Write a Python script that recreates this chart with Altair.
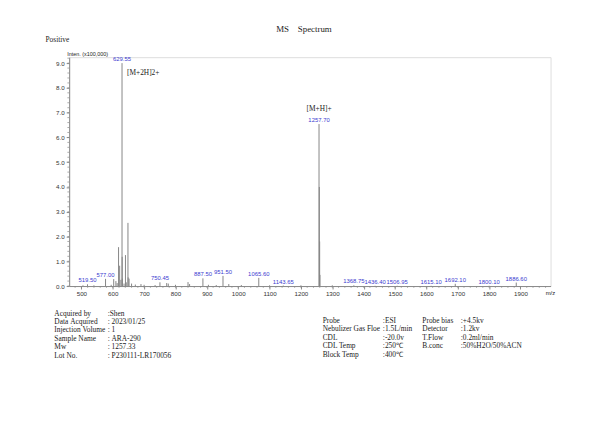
import altair as alt
import pandas as pd

# ---------------- data ----------------
peak_mz = [505.0, 519.50, 540.0, 577.00, 595.0, 603.0, 610.0, 614.0, 618.5, 622.0, 626.0,
           629.55, 630.05, 630.55, 636.0, 640.50, 643.0, 648.50, 649.0, 652.0, 660.0,
           672.0, 690.0, 700.0, 735.0, 750.45, 772.0, 777.0, 800.0, 840.0, 845.0,
           887.50, 905.0, 930.0, 951.50, 970.0, 1010.0, 1065.60, 1100.0, 1143.65,
           1200.0, 1257.70, 1258.70, 1259.70, 1260.70, 1300.0, 1368.75, 1436.40,
           1506.95, 1615.10, 1692.10, 1800.10, 1886.60]
peak_int = [0.03, 0.07, 0.03, 0.29, 0.05, 0.28, 0.20, 0.12, 1.57, 0.82, 0.25,
            9.00, 1.18, 0.30, 0.10, 1.25, 0.15, 2.55, 0.35, 0.30, 0.10,
            0.06, 0.08, 0.05, 0.04, 0.15, 0.12, 0.10, 0.05, 0.16, 0.08,
            0.31, 0.05, 0.04, 0.41, 0.08, 0.04, 0.33, 0.03, 0.02,
            0.03, 6.54, 4.00, 1.80, 0.45, 0.03, 0.03, 0.01,
            0.01, 0.01, 0.09, 0.01, 0.14]

label_mz = [519.50, 577.00, 629.55, 750.45, 887.50, 951.50, 1065.60, 1143.65, 1257.70,
            1368.75, 1436.40, 1506.95, 1615.10, 1692.10, 1800.10, 1886.60]

ann_mz = [629.55, 1257.70]
ann_int = [9.00, 6.54]
ann_text = ["[M+2H]2+", "[M+H]+"]

x_ticks = [500, 600, 700, 800, 900, 1000, 1100, 1200, 1300, 1400, 1500, 1600, 1700, 1800, 1900]
x_minor = list(range(480, 1996, 20))
y_ticks = [0, 1, 2, 3, 4, 5, 6, 7, 8, 9]
y_minor = [i / 5 for i in range(0, 47)]

info_left_labels = ["Acquired by", "Data Acquired", "Injection Volume", "Sample Name", " Mw", "Lot No."]
info_left_values = [":Shen", ": 2023/01/25", ": 1", ": ARA-290", ": 1257.33", ": P230111-LR170056"]
info_mid_labels = ["Probe", "Nebulizer Gas Floe", "CDL", "CDL Temp", "Block Temp"]
info_mid_values = [":ESI", ":1.5L/min", ":-20.0v", ":250\u2103", ":400\u2103"]
info_right_labels = ["Probe bias", "Detector", "T.Flow", "B.conc"]
info_right_values = [":+4.5kv", ":1.2kv", ":0.2ml/min", ":50%H2O/50%ACN"]

# ---------------- build ----------------
peaks = pd.DataFrame({"mz": peak_mz, "inten": peak_int})
lab_map = dict(zip(peak_mz, peak_int))
labels = pd.DataFrame({"mz": label_mz,
                       "inten": [lab_map[m] for m in label_mz],
                       "txt": [f"{m:.2f}" for m in label_mz]})

W, H = 488, 232
SERIF = "Liberation Serif"
SANS = "Liberation Sans"

xs = alt.Scale(domain=[461, 1996], nice=False, zero=False)
ys = alt.Scale(domain=[0, 9.24], nice=False)

x_axis = alt.Axis(values=x_ticks, format="d", title=None, grid=False, labelFont=SANS,
                  labelFontSize=6.3, labelColor="#333", tickSize=3, tickColor="#888",
                  domainColor="#888", labelPadding=2, labelOverlap=False, labelFlush=False,
                  labelBound=False)
y_axis = alt.Axis(values=y_ticks, format=".1f", title=None, grid=False, labelFont=SANS,
                  labelFontSize=6.3, labelColor="#333", tickSize=3, tickColor="#888",
                  domainColor="#888", labelPadding=2, labelOverlap=False, labelFlush=False,
                  labelBound=False)


def X(f):
    return alt.X(f, type="quantitative", scale=xs, axis=x_axis)


def Y(f):
    return alt.Y(f, type="quantitative", scale=ys, axis=y_axis)


rules = alt.Chart(peaks).mark_rule(color="#858585", strokeWidth=1).encode(
    x=X("mz"), y=Y("inten"), y2=alt.datum(0))

xminor = alt.Chart(pd.DataFrame({"mz": x_minor})).mark_rule(color="#888", strokeWidth=0.7).encode(
    x=X("mz"), y=alt.value(H), y2=alt.value(H + 1.8))
yminor = alt.Chart(pd.DataFrame({"inten": y_minor})).mark_rule(color="#888", strokeWidth=0.7).encode(
    y=Y("inten"), x=alt.value(-1.8), x2=alt.value(0))

peak_labels = alt.Chart(labels).mark_text(color="#3a3ad0", fontSize=6, font=SANS,
                                          baseline="bottom", dy=-1).encode(
    x=X("mz"), y=Y("inten"), text="txt:N")

ann = pd.DataFrame({"mz": ann_mz, "inten": ann_int, "txt": ann_text})
ann1 = alt.Chart(ann.iloc[[0]]).mark_text(font=SERIF, fontSize=7.5, color="#222", align="left",
                                           baseline="middle", dx=5, dy=10).encode(
    x=X("mz"), y=Y("inten"), text="txt:N")
ann2 = alt.Chart(ann.iloc[[1]]).mark_text(font=SERIF, fontSize=7.5, color="#222", align="center",
                                           baseline="middle", dy=-15).encode(
    x=X("mz"), y=Y("inten"), text="txt:N")

layers = [rules, xminor, yminor, peak_labels, ann1, ann2]

one = pd.DataFrame({"a": [0]})


def txt(s, x, y, size, font, align="left", color="#222"):
    return alt.Chart(one).mark_text(text=s, fontSize=size, font=font, align=align,
                                     baseline="middle", color=color).encode(
        x=alt.value(x), y=alt.value(y))


NB = "\u00a0"
layers.append(txt("MS" + NB * 4 + "Spectrum", 238, -29, 9, SERIF, align="center"))
layers.append(txt("Positive", -24, -17, 7.5, SERIF))
layers.append(txt("Inten. (x100,000)", -2, -3.5, 5.5, SANS))
layers.append(txt("m/z", 483, 239, 6, SANS))

FS = 7.5
left_rows = [260, 268.5, 277, 285.5, 294, 302.5]
for i, (a, b) in enumerate(zip(info_left_labels, info_left_values)):
    layers.append(txt(a.replace(" ", NB), -15, left_rows[i], FS, SERIF))
    layers.append(txt(b.replace(" ", NB), 39, left_rows[i], FS, SERIF))

mid_rows = [267.5, 276, 284.5, 293, 302]
for i, (a, b) in enumerate(zip(info_mid_labels, info_mid_values)):
    layers.append(txt(a, 257, mid_rows[i], FS, SERIF))
    layers.append(txt(b, 318, mid_rows[i], FS, SERIF))
for i, (a, b) in enumerate(zip(info_right_labels, info_right_values)):
    layers.append(txt(a, 358, mid_rows[i], FS, SERIF))
    layers.append(txt(b, 397, mid_rows[i], FS, SERIF))

chart = alt.layer(*layers).properties(
    width=W, height=H,
    autosize=alt.AutoSizeParams(type="none"),
    padding={"left": 62, "top": 47, "right": 42, "bottom": 137},
).configure_view(stroke="#d0d0d0", strokeWidth=1).configure(background="white")

chart.save("out.html", embed_options={"renderer": "svg", "actions": False})
